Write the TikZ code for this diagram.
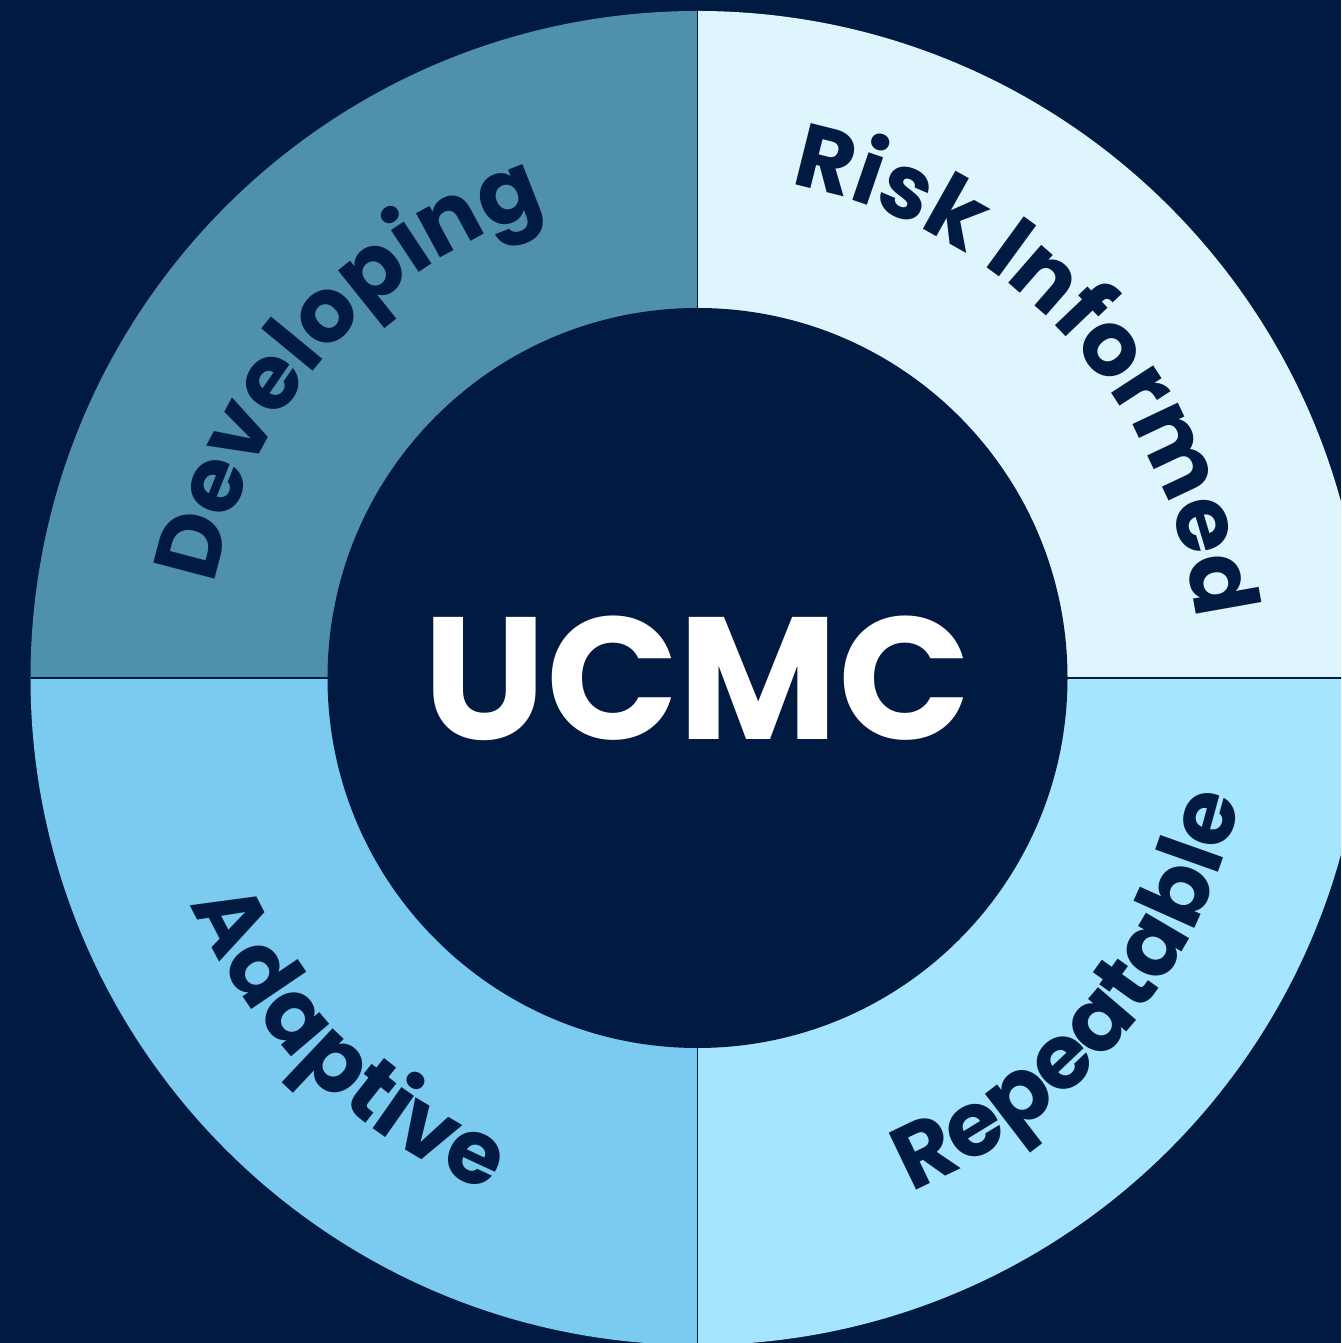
\documentclass[tikz,border=0pt]{standalone}
\usepackage{fontspec}
\newfontfamily\popfont{Poppins}
\usetikzlibrary{decorations.text}
\definecolor{navy}{HTML}{011A42}
\definecolor{qtl}{HTML}{4F90AD}
\definecolor{qtr}{HTML}{DEF5FE}
\definecolor{qbl}{HTML}{7ACBEF}
\definecolor{qbr}{HTML}{A6E6FD}
\newcommand{\arcfont}{\popfont\bfseries\fontsize{90}{90}\selectfont\color{navy}}
\tikzset{
  arclabel/.style={decorate, decoration={text along path, text align=center, text={|\arcfont|#1}}},
  divider/.style={draw=navy, line width=1.5pt}
}
\begin{document}
\begin{tikzpicture}[x=1pt,y=1pt]
\useasboundingbox (0,0) rectangle (1341,1343);
\clip (0,0) rectangle (1341,1343);
\fill[navy] (0,0) rectangle (1341,1343);
\coordinate (c) at (697.5,665);
% quadrants
\fill[qtl] (c) -- ([shift={(180:667)}]c) arc[start angle=180, end angle=90, radius=667] -- cycle;
\fill[qtr] (c) -- ([shift={(90:667)}]c) arc[start angle=90, end angle=0, radius=667] -- cycle;
\fill[qbr] (c) -- ([shift={(0:667)}]c) arc[start angle=0, end angle=-90, radius=667] -- cycle;
\fill[qbl] (c) -- ([shift={(270:667)}]c) arc[start angle=270, end angle=180, radius=667] -- cycle;
% dividers
\coordinate (dtop) at ([shift={(90:667)}]c);
\coordinate (dbot) at ([shift={(270:667)}]c);
\coordinate (dleft) at ([shift={(180:667)}]c);
\coordinate (dright) at ([shift={(0:667)}]c);
\draw[divider] (dtop) -- (dbot);
\draw[divider] (dleft) -- (dright);
% inner disc
\fill[navy] (c) circle[radius=370];
\node[font=\popfont\bfseries\fontsize{174}{174}\selectfont, text=white, inner sep=0pt] (ucmc) at (c) {UCMC};
% arc labels
\path[arclabel=Developing] ([shift={(198.5:492)}]c) arc[start angle=198.5, end angle=78.5, radius=492];
\path[arclabel=Risk Informed] ([shift={(103:502)}]c) arc[start angle=103, end angle=-17, radius=502];
\path[arclabel=Adaptive] ([shift={(166:555)}]c) arc[start angle=166, end angle=286, radius=555];
\path[arclabel=Repeatable] ([shift={(260:556)}]c) arc[start angle=260, end angle=380, radius=556];
\end{tikzpicture}
\end{document}
